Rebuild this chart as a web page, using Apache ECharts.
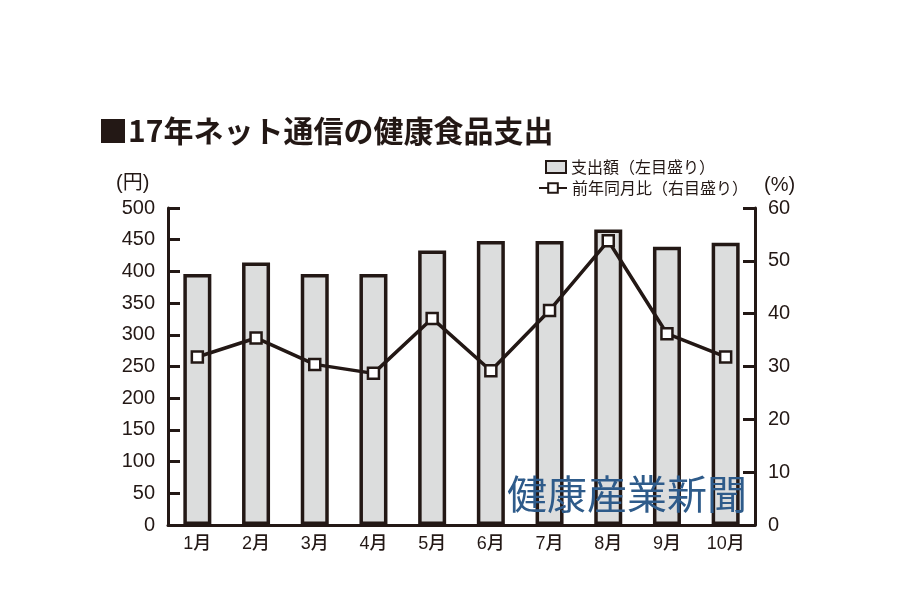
<!DOCTYPE html>
<html>
<head>
<meta charset="utf-8">
<script src="https://cdn.jsdelivr.net/npm/echarts@6/dist/echarts.min.js"></script>
<style>
html, body { margin: 0; padding: 0; background: #fff; }
#chart { width: 900px; height: 605px; }
</style>
</head>
<body>
<div id="chart"></div>
<script>
// データ
var months = ['1月', '2月', '3月', '4月', '5月', '6月', '7月', '8月', '9月', '10月'];
var spending = [396, 414, 396, 396, 433, 448, 448, 466, 439, 445];   // 支出額（円）
var yoy = [31.8, 35.4, 30.4, 28.7, 39.1, 29.2, 40.6, 53.8, 36.2, 31.8]; // 前年同月比（%）

var ink = '#231815';
var font = "'Liberation Sans', 'Noto Sans CJK JP', sans-serif";
var jp = "'Noto Sans CJK JP', sans-serif";

var chart = echarts.init(document.getElementById('chart'));

chart.setOption({
    backgroundColor: '#fff',
    animation: false,
    textStyle: { fontFamily: font, color: ink },
    title: {
        text: '■17年ネット通信の健康食品支出',
        left: 93,
        top: 111,
        textStyle: { fontSize: 30, fontWeight: 'bold', color: ink, fontFamily: jp }
    },
    legend: [
        {
            data: [{ name: '支出額（左目盛り）', icon: 'rect' }],
            left: 540,
            top: 154,
            itemWidth: 20,
            itemHeight: 12,
            itemGap: 6,
            textStyle: { fontSize: 16, color: ink, fontFamily: jp }
        },
        {
            data: ['前年同月比（右目盛り）'],
            left: 533,
            top: 175,
            itemWidth: 28,
            itemHeight: 12,
            textStyle: { fontSize: 16, color: ink, fontFamily: jp }
        }
    ],
    grid: { left: 168, right: 145, top: 208, bottom: 80 },
    xAxis: {
        type: 'category',
        data: months,
        axisLine: { lineStyle: { color: ink, width: 3 } },
        axisTick: { inside: true, length: 9, lineStyle: { color: ink, width: 3 } },
        axisLabel: { fontSize: 18, fontWeight: 500, color: ink, margin: 10 }
    },
    yAxis: [
        {
            type: 'value',
            min: 0,
            max: 500,
            interval: 50,
            position: 'left',
            splitLine: { show: false },
            axisLine: { show: true, lineStyle: { color: ink, width: 3 } },
            axisTick: { show: true, inside: true, length: 12, lineStyle: { color: ink, width: 3 } },
            axisLabel: { fontSize: 20, color: ink, margin: 13 }
        },
        {
            type: 'value',
            min: 0,
            max: 60,
            interval: 10,
            position: 'right',
            splitLine: { show: false },
            axisLine: { show: true, lineStyle: { color: ink, width: 3 } },
            axisTick: { show: true, inside: true, length: 12, lineStyle: { color: ink, width: 3 } },
            axisLabel: { fontSize: 20, color: ink, margin: 13 }
        }
    ],
    graphic: [
        {
            type: 'text',
            left: 116,
            top: 173,
            style: { text: '(円)', fontSize: 20, fill: ink, fontFamily: font }
        },
        {
            type: 'text',
            left: 764,
            top: 175,
            style: { text: '(%)', fontSize: 20, fill: ink, fontFamily: font }
        },
        {
            type: 'text',
            left: 507,
            top: 474,
            z: 100,
            style: { text: '健康産業新聞', fontSize: 40, fill: '#2e5b8a', fontFamily: jp }
        }
    ],
    series: [
        {
            name: '支出額（左目盛り）',
            type: 'bar',
            data: spending,
            barWidth: 28,
            itemStyle: { color: '#dcdddd', borderColor: ink, borderWidth: 3.5 }
        },
        {
            name: '前年同月比（右目盛り）',
            type: 'line',
            yAxisIndex: 1,
            data: yoy,
            symbol: 'rect',
            symbolSize: 11,
            lineStyle: { color: ink, width: 3.5 },
            itemStyle: { color: '#fff', borderColor: ink, borderWidth: 2.5 }
        }
    ]
});
</script>
</body>
</html>
